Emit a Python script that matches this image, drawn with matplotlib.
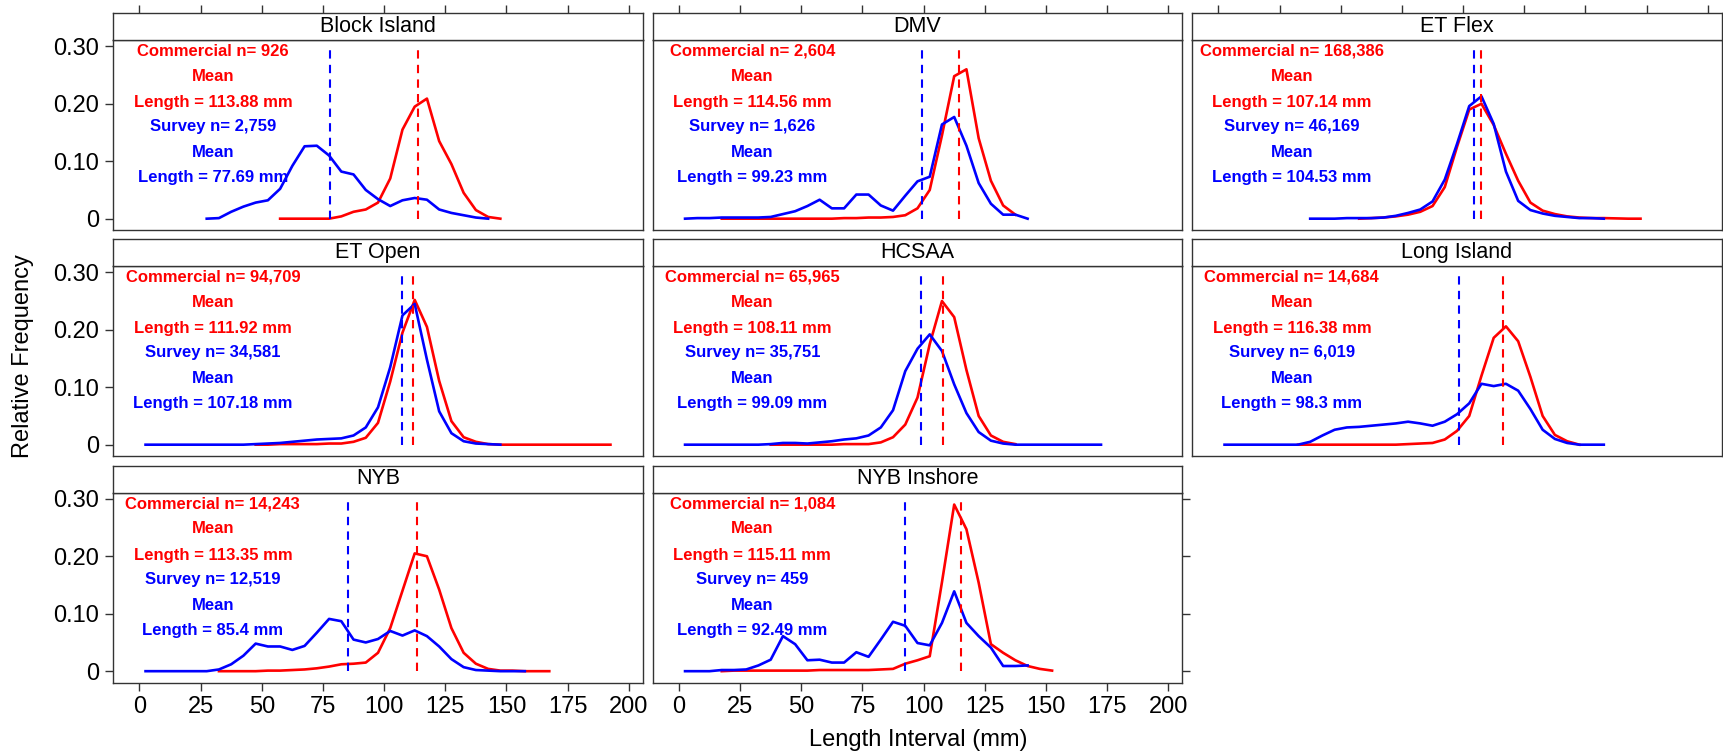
import matplotlib
matplotlib.use("Agg")
import matplotlib.pyplot as plt

plt.rcParams['font.family'] = ['Liberation Sans', 'DejaVu Sans']

# ---------------- data ----------------
panel_names = ["Block Island", "DMV", "ET Flex", "ET Open", "HCSAA",
               "Long Island", "NYB", "NYB Inshore"]

# 5 mm length-interval bin centres
bins = [2.5, 7.5, 12.5, 17.5, 22.5, 27.5, 32.5, 37.5, 42.5, 47.5,
        52.5, 57.5, 62.5, 67.5, 72.5, 77.5, 82.5, 87.5, 92.5, 97.5,
        102.5, 107.5, 112.5, 117.5, 122.5, 127.5, 132.5, 137.5, 142.5, 147.5,
        152.5, 157.5, 162.5, 167.5, 172.5, 177.5, 182.5, 187.5, 192.5]

n_comm = [926, 2604, 168386, 94709, 65965, 14684, 14243, 1084]
n_surv = [2759, 1626, 46169, 34581, 35751, 6019, 12519, 459]
mean_comm = [113.88, 114.56, 107.14, 111.92, 108.11, 116.38, 113.35, 115.11]
mean_surv = [77.69, 99.23, 104.53, 107.18, 99.09, 98.3, 85.4, 92.49]

# commercial (red) relative frequencies, with first bin centre
bi_comm_start = 57.5
bi_comm = [0, 0, 0, 0, 0, 0.004, 0.012, 0.016, 0.028, 0.07, 0.155, 0.195,
           0.209, 0.135, 0.095, 0.045, 0.015, 0.003, 0]
dmv_comm_start = 17.5
dmv_comm = [0, 0, 0, 0, 0, 0, 0, 0, 0, 0, 0.001, 0.001, 0.002, 0.002, 0.003,
            0.006, 0.018, 0.05, 0.145, 0.248, 0.26, 0.14, 0.066, 0.023, 0.007]
etf_comm_start = 57.5
etf_comm = [0, 0.001, 0.002, 0.004, 0.007, 0.012, 0.022, 0.055, 0.125, 0.19,
            0.2, 0.163, 0.113, 0.066, 0.028, 0.014, 0.008, 0.004, 0.002, 0.001,
            0.001, 0.0005, 0, 0]
eto_comm_start = 47.5
eto_comm = [0, 0, 0.001, 0.001, 0.001, 0.001, 0.002, 0.002, 0.005, 0.012,
            0.038, 0.11, 0.195, 0.252, 0.205, 0.111, 0.041, 0.013, 0.005, 0.001,
            0, 0, 0, 0, 0, 0, 0, 0, 0, 0]
hc_comm_start = 37.5
hc_comm = [0, 0, 0, 0, 0, 0, 0.001, 0.001, 0.001, 0.004, 0.013, 0.035, 0.082,
           0.175, 0.25, 0.222, 0.13, 0.05, 0.016, 0.005, 0.001]
li_comm_start = 32.5
li_comm = [0, 0, 0, 0, 0, 0, 0, 0, 0, 0.001, 0.002, 0.003, 0.009, 0.024, 0.05,
           0.12, 0.186, 0.206, 0.18, 0.118, 0.05, 0.017, 0.006, 0]
nyb_comm_start = 32.5
nyb_comm = [0, 0, 0, 0, 0.001, 0.001, 0.002, 0.003, 0.005, 0.008, 0.012, 0.013,
            0.015, 0.032, 0.075, 0.14, 0.205, 0.2, 0.142, 0.075, 0.032, 0.013,
            0.004, 0.001, 0.001, 0, 0, 0]
nyi_comm_start = 17.5
nyi_comm = [0, 0.001, 0.001, 0.001, 0.001, 0.001, 0.001, 0.001, 0.002, 0.002,
            0.002, 0.002, 0.002, 0.003, 0.004, 0.013, 0.019, 0.026, 0.155, 0.29,
            0.247, 0.154, 0.047, 0.032, 0.019, 0.009, 0.004, 0.001]

# survey (blue) relative frequencies, with first bin centre
bi_surv_start = 27.5
bi_surv = [0, 0.001, 0.012, 0.021, 0.028, 0.032, 0.052, 0.092, 0.126, 0.127,
           0.110, 0.082, 0.077, 0.050, 0.034, 0.022, 0.032, 0.036, 0.033, 0.016,
           0.010, 0.006, 0.002, 0.000]
dmv_surv_start = 2.5
dmv_surv = [0, 0.001, 0.001, 0.002, 0.002, 0.002, 0.002, 0.003, 0.008, 0.013,
            0.022, 0.033, 0.018, 0.018, 0.042, 0.042, 0.023, 0.014, 0.040, 0.065,
            0.073, 0.164, 0.177, 0.127, 0.062, 0.026, 0.007, 0.007, 0.0]
etf_surv_start = 37.5
etf_surv = [0, 0, 0, 0.001, 0.001, 0.001, 0.002, 0.005, 0.01, 0.016, 0.03,
            0.068, 0.13, 0.196, 0.213, 0.165, 0.082, 0.031, 0.015, 0.009, 0.005,
            0.003, 0.001, 0.001, 0.0]
eto_surv_start = 2.5
eto_surv = [0, 0, 0, 0, 0, 0, 0, 0, 0, 0.001, 0.002, 0.003, 0.005, 0.007,
            0.009, 0.01, 0.011, 0.016, 0.03, 0.065, 0.135, 0.225, 0.245, 0.148,
            0.058, 0.02, 0.006, 0.002, 0.001, 0]
hc_surv_start = 2.5
hc_surv = [0, 0, 0, 0, 0, 0, 0, 0.001, 0.003, 0.003, 0.002, 0.004, 0.006,
           0.009, 0.011, 0.016, 0.03, 0.06, 0.128, 0.167, 0.192, 0.163, 0.105,
           0.055, 0.022, 0.007, 0.002, 0, 0, 0, 0, 0, 0, 0, 0]
li_surv_start = 2.5
li_surv = [0, 0, 0, 0, 0, 0, 0, 0.005, 0.016, 0.026, 0.03, 0.031, 0.033,
           0.035, 0.037, 0.04, 0.037, 0.033, 0.04, 0.053, 0.072, 0.106, 0.102,
           0.106, 0.094, 0.062, 0.026, 0.01, 0.003, 0, 0, 0]
nyb_surv_start = 2.5
nyb_surv = [0, 0, 0, 0, 0, 0, 0.003, 0.012, 0.027, 0.048, 0.043, 0.043, 0.037,
            0.044, 0.067, 0.091, 0.087, 0.055, 0.05, 0.056, 0.07, 0.062, 0.071,
            0.061, 0.043, 0.021, 0.007, 0.002, 0.001, 0, 0, 0]
nyi_surv_start = 2.5
nyi_surv = [0, 0, 0, 0.002, 0.002, 0.003, 0.01, 0.02, 0.061, 0.047, 0.019,
            0.02, 0.015, 0.015, 0.033, 0.025, 0.055, 0.086, 0.079, 0.049, 0.045,
            0.084, 0.139, 0.084, 0.061, 0.041, 0.009, 0.009, 0.01]

comm_series = [(bi_comm_start, bi_comm), (dmv_comm_start, dmv_comm),
               (etf_comm_start, etf_comm), (eto_comm_start, eto_comm),
               (hc_comm_start, hc_comm), (li_comm_start, li_comm),
               (nyb_comm_start, nyb_comm), (nyi_comm_start, nyi_comm)]
surv_series = [(bi_surv_start, bi_surv), (dmv_surv_start, dmv_surv),
               (etf_surv_start, etf_surv), (eto_surv_start, eto_surv),
               (hc_surv_start, hc_surv), (li_surv_start, li_surv),
               (nyb_surv_start, nyb_surv), (nyi_surv_start, nyi_surv)]

x_ticks = [0, 25, 50, 75, 100, 125, 150, 175, 200]
y_ticks = [0, 0.10, 0.20, 0.30]
y_tick_labels = ["0", "0.10", "0.20", "0.30"]


def series_xy(start, vals):
    i0 = bins.index(start)
    return bins[i0:i0 + len(vals)], vals


# ---------------- layout ----------------
W, H = 1723, 751
fig = plt.figure(figsize=(W / 100, H / 100), dpi=100)

col_left = [113, 652.5, 1192]
panel_w = 530
row_top = [13, 239, 465.5]
strip_h = 27
data_h = 190
edge = '#333333'
RED = '#FF0000'
BLUE = '#0000FF'
XLIM = (-10.8, 205.8)
YLIM = (-0.0197, 0.311)
text_y = [0.291, 0.248, 0.202, 0.160, 0.115, 0.071]

for i, name in enumerate(panel_names):
    r, c = divmod(i, 3)
    l = col_left[c]
    t = row_top[r]
    ax = fig.add_axes([l / W, 1 - (t + strip_h + data_h) / H, panel_w / W, data_h / H])
    st = fig.add_axes([l / W, 1 - (t + strip_h) / H, panel_w / W, strip_h / H])

    # strip
    st.set_xlim(XLIM)
    st.set_ylim(0, 1)
    st.set_yticks([])
    for sp in st.spines.values():
        sp.set_color(edge)
        sp.set_linewidth(1.0)
    st.text(0.5, 0.5, name, transform=st.transAxes, ha='center', va='center',
            fontsize=15.5, color='black')
    if r == 0:
        st.set_xticks(x_ticks)
        st.tick_params(axis='x', top=True, bottom=False, labeltop=False,
                       labelbottom=False, direction='out', length=6,
                       width=1.0, color=edge)
    else:
        st.set_xticks([])

    # data panel
    xs, ys = series_xy(*comm_series[i])
    ax.plot(xs, ys, color=RED, lw=1.9)
    xs, ys = series_xy(*surv_series[i])
    ax.plot(xs, ys, color=BLUE, lw=1.9)
    ax.vlines(mean_surv[i], 0, 0.30, colors=BLUE, linestyles=(0, (4, 3)), lw=1.5)
    ax.vlines(mean_comm[i], 0, 0.30, colors=RED, linestyles=(0, (4, 3)), lw=1.5)

    lines = [(f"Commercial n= {n_comm[i]:,}", RED), ("Mean", RED),
             (f"Length = {mean_comm[i]:g} mm", RED),
             (f"Survey n= {n_surv[i]:,}", BLUE), ("Mean", BLUE),
             (f"Length = {mean_surv[i]:g} mm", BLUE)]
    for (txt, col), yy in zip(lines, text_y):
        ax.text(30, yy, txt, color=col, fontsize=12, fontweight='bold',
                ha='center', va='center')

    ax.set_xlim(XLIM)
    ax.set_ylim(YLIM)
    for sp in ax.spines.values():
        sp.set_color(edge)
        sp.set_linewidth(1.0)
    ax.set_xticks(x_ticks)
    ax.set_yticks(y_ticks)
    ax.set_yticklabels(y_tick_labels)
    ax.tick_params(direction='out', length=6, width=1.0, color=edge,
                   labelsize=17, pad=4)
    bottom = (r == 2)
    left = (c == 0)
    right = (c == 2) or (i == len(panel_names) - 1)
    ax.tick_params(axis='x', bottom=bottom, labelbottom=bottom, top=False,
                   labeltop=False, pad=3.5)
    ax.tick_params(axis='y', left=left, labelleft=left, right=right,
                   labelright=False)

fig.text(23 / W, 1 - 356 / H, "Relative Frequency", rotation=90,
         ha='center', va='center', fontsize=17)
fig.text(918 / W, 1 - 740 / H, "Length Interval (mm)",
         ha='center', va='center', fontsize=17)

fig.savefig("out.png", dpi=100, facecolor='white')
